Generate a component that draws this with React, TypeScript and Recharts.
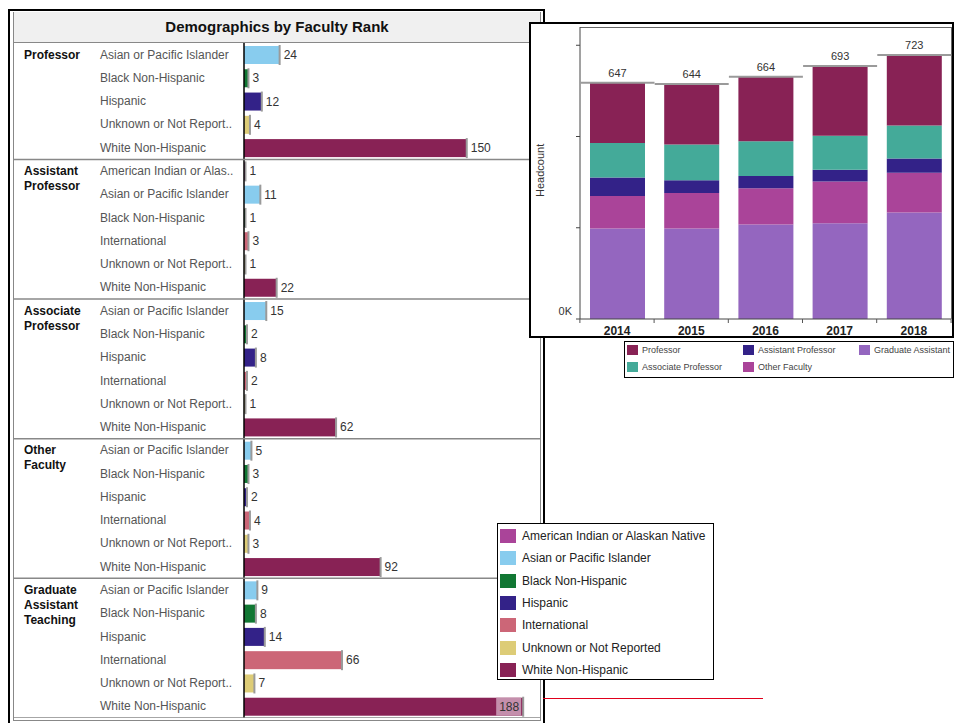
import React from "react";
import { BarChart, Bar, XAxis, YAxis, Cell, LabelList } from "recharts";

// ---- left panel: demographics by rank (current year) ----
const raceNames = [
  "American Indian or Alaskan Native",
  "Asian or Pacific Islander",
  "Black Non-Hispanic",
  "Hispanic",
  "International",
  "Unknown or Not Reported",
  "White Non-Hispanic",
];
const raceColors = ["#aa4499", "#88ccee", "#117733", "#332288", "#cc6677", "#ddcc77", "#882255"];
const raceShort: Record<string, string> = {
  "American Indian or Alaskan Native": "American Indian or Alas..",
  "Unknown or Not Reported": "Unknown or Not Report..",
};

const rankNames = ["Professor", "Assistant Professor", "Associate Professor", "Other Faculty", "Graduate Assistant Teaching"];

const professorRaces = ["Asian or Pacific Islander", "Black Non-Hispanic", "Hispanic", "Unknown or Not Reported", "White Non-Hispanic"];
const professorCounts = [24, 3, 12, 4, 150];
const assistantRaces = ["American Indian or Alaskan Native", "Asian or Pacific Islander", "Black Non-Hispanic", "International", "Unknown or Not Reported", "White Non-Hispanic"];
const assistantCounts = [1, 11, 1, 3, 1, 22];
const associateRaces = ["Asian or Pacific Islander", "Black Non-Hispanic", "Hispanic", "International", "Unknown or Not Reported", "White Non-Hispanic"];
const associateCounts = [15, 2, 8, 2, 1, 62];
const otherRaces = ["Asian or Pacific Islander", "Black Non-Hispanic", "Hispanic", "International", "Unknown or Not Reported", "White Non-Hispanic"];
const otherCounts = [5, 3, 2, 4, 3, 92];
const gradRaces = ["Asian or Pacific Islander", "Black Non-Hispanic", "Hispanic", "International", "Unknown or Not Reported", "White Non-Hispanic"];
const gradCounts = [9, 8, 14, 66, 7, 188];

const sections = [
  { races: professorRaces, counts: professorCounts },
  { races: assistantRaces, counts: assistantCounts },
  { races: associateRaces, counts: associateCounts },
  { races: otherRaces, counts: otherCounts },
  { races: gradRaces, counts: gradCounts },
];

const rows = sections
  .flatMap((s, si) =>
    s.races.map((race, ri) => ({
      rank: rankNames[si],
      first: ri === 0,
      race,
      count: s.counts[ri],
      color: raceColors[raceNames.indexOf(race)],
    }))
  )
  .map((r, i) => ({ ...r, id: String(i) }));

// ---- right panel: headcount by year ----
const years = ["2014", "2015", "2016", "2017", "2018"];
const gradAssistant = [248, 248, 259, 262, 292];
const otherFaculty = [89, 97, 99, 115, 109];
const assistantProf = [51, 35, 34, 32, 39];
const associateProf = [94, 98, 95, 93, 90];
const professor = [165, 166, 177, 191, 193];

const yearData = years.map((year, i) => ({
  year,
  grad: gradAssistant[i],
  other: otherFaculty[i],
  assistant: assistantProf[i],
  associate: associateProf[i],
  professor: professor[i],
  total: gradAssistant[i] + otherFaculty[i] + assistantProf[i] + associateProf[i] + professor[i],
}));

const rankSeries = [
  { key: "grad", name: "Graduate Assistant", color: "#9466bf" },
  { key: "other", name: "Other Faculty", color: "#aa4499" },
  { key: "assistant", name: "Assistant Professor", color: "#332288" },
  { key: "associate", name: "Associate Professor", color: "#44aa99" },
  { key: "professor", name: "Professor", color: "#882255" },
];
const rankLegendOrder = ["professor", "assistant", "grad", "associate", "other"];

const FONT = '"Liberation Sans", Arial, sans-serif';
const LEFT_W = 527;
const LEFT_H = 675;
const ROW_H = LEFT_H / rows.length;

const RowTick = (props: any) => {
  const { y, payload } = props;
  const i = Number(payload.value);
  const row = rows[i];
  return (
    <g>
      {row.first && i > 0 && <line x1={0} x2={LEFT_W} y1={y - ROW_H / 2} y2={y - ROW_H / 2} stroke="#888" strokeWidth={1.5} />}
      {i === rows.length - 1 && <line x1={0} x2={LEFT_W} y1={y + ROW_H / 2} y2={y + ROW_H / 2} stroke="#888" strokeWidth={1.5} />}
      {row.first &&
        row.rank.split(" ").map((w, k) => (
          <text key={k} x={10} y={y + 4 + k * 15} fontSize={12} fontWeight="bold" fill="#111" fontFamily={FONT}>
            {w}
          </text>
        ))}
      <text x={86} y={y + 4} fontSize={12} fill="#555" fontFamily={FONT}>
        {raceShort[row.race] || row.race}
      </text>
    </g>
  );
};

const RaceBar = (props: any) => {
  const { x, y, width, height, fill } = props;
  return (
    <g>
      <rect x={x} y={y} width={Math.max(width, 0)} height={height} fill={fill} />
      <line x1={x + width} x2={x + width} y1={y - 1} y2={y + height + 1} stroke="#9a9a9a" strokeWidth={2} />
    </g>
  );
};

const ValueLabel = (props: any) => {
  const { x, y, width, height, value } = props;
  const end = x + width;
  const cy = y + height / 2 + 4;
  if (end + 30 > LEFT_W) {
    return (
      <g>
        <rect x={end - 27} y={y} width={25} height={height} fill="#c48fac" />
        <text x={end - 14} y={cy} textAnchor="middle" fontSize={12} fill="#333" fontFamily={FONT}>
          {value}
        </text>
      </g>
    );
  }
  return (
    <text x={end + 4} y={cy} fontSize={12} fill="#333" fontFamily={FONT}>
      {value}
    </text>
  );
};

const TotalLabel = (props: any) => {
  const { x, y, width, index } = props;
  return (
    <g>
      <line x1={x - 9.5} x2={x + width + 9.5} y1={y} y2={y} stroke="#9a9a9a" strokeWidth={2} />
      <text x={x + width / 2} y={y - 6} textAnchor="middle" fontSize={11} fill="#333" fontFamily={FONT}>
        {yearData[index].total}
      </text>
    </g>
  );
};

const YearTick = (props: any) => {
  const { x, payload, index } = props;
  const band = 372 / years.length;
  return (
    <g>
      <line x1={x - band / 2} x2={x - band / 2} y1={297} y2={301} stroke="#555" />
      {index === years.length - 1 && <line x1={x + band / 2} x2={x + band / 2} y1={297} y2={301} stroke="#555" />}
      <text x={x} y={313} textAnchor="middle" fontSize={12} fontWeight="bold" fill="#222" fontFamily={FONT}>
        {payload.value}
      </text>
    </g>
  );
};

const HeadTick = (props: any) => {
  const { x, y, payload } = props;
  if (payload.value !== 0) return null;
  return (
    <text x={x - 2} y={y - 4} textAnchor="end" fontSize={11} fill="#333" fontFamily={FONT}>
      0K
    </text>
  );
};

export default function App() {
  return (
    <div style={{ position: "absolute", left: 0, top: 0, width: 954, height: 723, background: "#fff", overflow: "hidden", fontFamily: FONT }}>
      {/* left panel frame */}
      <div style={{ position: "absolute", left: 8, top: 9, width: 537, height: 730, border: "2px solid #000", boxSizing: "border-box" }} />
      <div style={{ position: "absolute", left: 13, top: 12, width: 528, height: 709, border: "1px solid #888", boxSizing: "border-box" }} />
      <div
        style={{
          position: "absolute", left: 14, top: 12, width: 526, height: 31, background: "#f0f0f0",
          borderBottom: "1.5px solid #888", boxSizing: "border-box", textAlign: "center",
          fontSize: 15, fontWeight: "bold", lineHeight: "30px", color: "#111",
        }}
      >
        Demographics by Faculty Rank
      </div>
      <div style={{ position: "absolute", left: 14, top: 43 }}>
        <BarChart layout="vertical" width={LEFT_W} height={LEFT_H} data={rows} margin={{ top: 0, right: 0, bottom: 0, left: 0 }}>
          <XAxis type="number" domain={[0, 200]} hide />
          <YAxis type="category" dataKey="id" width={230} interval={0} tickLine={false} axisLine={{ stroke: "#000", strokeWidth: 1.5 }} tick={<RowTick />} />
          <Bar dataKey="count" barSize={18} shape={<RaceBar />} isAnimationActive={false}>
            {rows.map((r, i) => (
              <Cell key={i} fill={r.color} />
            ))}
            <LabelList dataKey="count" content={<ValueLabel />} />
          </Bar>
        </BarChart>
      </div>

      {/* right panel */}
      <div style={{ position: "absolute", left: 529, top: 22, width: 425, height: 316, border: "2px solid #000", boxSizing: "border-box", background: "#fff" }} />
      <div style={{ position: "absolute", left: 580, top: 27, width: 372, height: 292, borderTop: "1px solid #666", borderRight: "1px solid #666", boxSizing: "border-box" }} />
      <div style={{ position: "absolute", left: 529, top: 22 }}>
        <BarChart width={424} height={315} data={yearData} margin={{ top: 5, right: 2, bottom: 0, left: 0 }} barSize={55}>
          <XAxis dataKey="year" height={18} tickLine={false} axisLine={{ stroke: "#444" }} tick={<YearTick />} interval={0} />
          <YAxis
            width={51}
            domain={[0, 800]}
            ticks={[0, 250, 500, 750]}
            tickSize={4}
            tickLine={{ stroke: "#444" }}
            axisLine={{ stroke: "#444" }}
            tick={<HeadTick />}
            label={{ value: "Headcount", angle: -90, position: "insideLeft", offset: 11, dy: 24, fontSize: 11, fill: "#333" }}
          />
          {rankSeries.map((s) => (
            <Bar key={s.key} dataKey={s.key} stackId="a" fill={s.color} isAnimationActive={false}>
              {s.key === "professor" && <LabelList dataKey="total" content={<TotalLabel />} />}
            </Bar>
          ))}
        </BarChart>
      </div>
      <div style={{ position: "absolute", left: 624, top: 341, width: 330, height: 37, border: "1.5px solid #000", boxSizing: "border-box", background: "#fff" }}>
        {rankLegendOrder.map((k, i) => {
          const s = rankSeries.find((r) => r.key === k)!;
          const col = i % 3;
          const row = Math.floor(i / 3);
          return (
            <div key={k} style={{ position: "absolute", left: 2, top: 3 + row * 17, marginLeft: col * 116, display: "flex", alignItems: "center", fontSize: 9, color: "#444", whiteSpace: "nowrap" }}>
              <span style={{ display: "inline-block", width: 11, height: 10, background: s.color, marginRight: 4 }} />
              {s.name}
            </div>
          );
        })}
      </div>

      {/* race legend */}
      <div style={{ position: "absolute", left: 497, top: 523, width: 217, height: 157, border: "1px solid #000", boxSizing: "border-box", background: "#fff" }}>
        {raceNames.map((name, i) => (
          <div key={name} style={{ position: "absolute", left: 2, top: 5 + i * 22.3, display: "flex", alignItems: "center", fontSize: 12, color: "#222", whiteSpace: "nowrap" }}>
            <span style={{ display: "inline-block", width: 16, height: 14, background: raceColors[i], marginRight: 6 }} />
            {name}
          </div>
        ))}
      </div>
      <div style={{ position: "absolute", left: 543, top: 698, width: 220, height: 1, background: "#e0001b" }} />
    </div>
  );
}
